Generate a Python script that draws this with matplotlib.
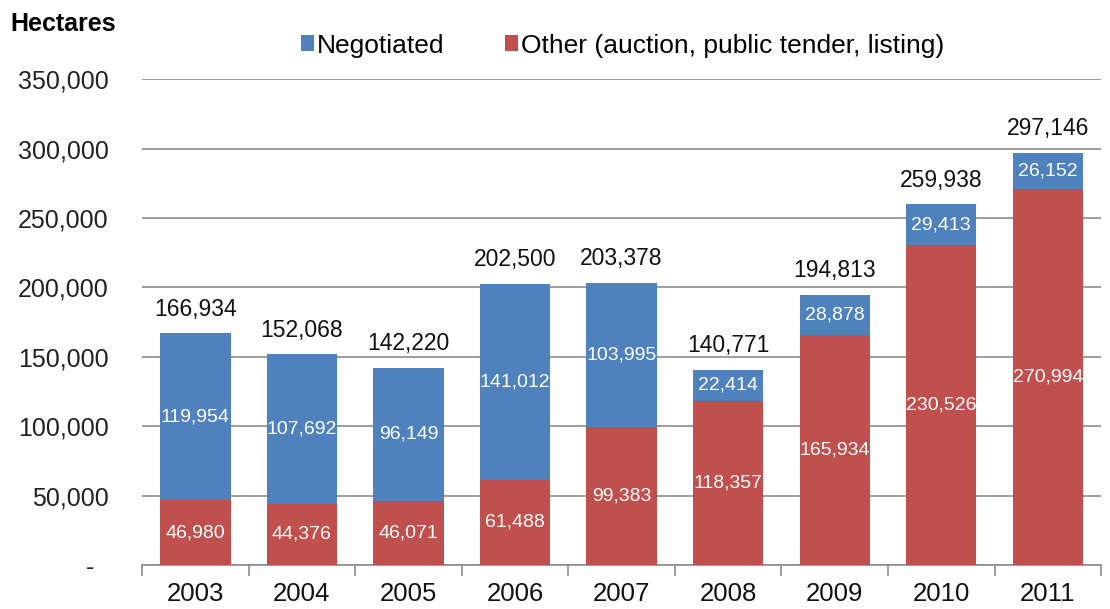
import matplotlib.pyplot as plt
import numpy as np
from matplotlib.ticker import FuncFormatter

plt.rcParams['font.family'] = ['Liberation Sans', 'DejaVu Sans']

years = ["2003", "2004", "2005", "2006", "2007", "2008", "2009", "2010", "2011"]
other = [46980, 44376, 46071, 61488, 99383, 118357, 165934, 230526, 270994]
negotiated = [119954, 107692, 96149, 141012, 103995, 22414, 28878, 29413, 26152]
# totals as published (rounded in the source table)
totals = [166934, 152068, 142220, 202500, 203378, 140771, 194813, 259938, 297146]

blue = "#4F81BD"
red = "#C0504D"

x = np.arange(len(years))
other = np.array(other)
negotiated = np.array(negotiated)

fig = plt.figure(figsize=(11.1, 6.09), dpi=100)
ax = fig.add_axes([0.128, 0.072, 0.864, 0.798])

b1 = ax.bar(x, other, width=0.66, color=red, zorder=3,
            label="Other (auction, public tender, listing)")
b2 = ax.bar(x, negotiated, width=0.66, bottom=other, color=blue, zorder=3,
            label="Negotiated")

# segment labels, white, centred in each piece
for i in range(len(x)):
    ax.text(x[i], other[i] / 2, f"{other[i]:,}", ha="center", va="center",
            color="white", fontsize=14, zorder=4)
    ax.text(x[i], other[i] + negotiated[i] / 2, f"{negotiated[i]:,}",
            ha="center", va="center", color="white", fontsize=14, zorder=4)
    ax.text(x[i], totals[i] + 9000, f"{totals[i]:,}", ha="center",
            va="bottom", color="#111111", fontsize=16.5, zorder=4)

ax.set_xlim(-0.5, len(x) - 0.5)
ax.set_ylim(0, 350000)
ax.set_yticks(np.arange(0, 350001, 50000))
ax.yaxis.set_major_formatter(FuncFormatter(lambda v, p: "-  " if v == 0 else f"{int(v):,}"))
ax.grid(axis="y", color="#8c8c8c", linewidth=1.2, zorder=0)
ax.tick_params(axis="y", length=0, labelsize=18, pad=24, labelcolor="#222222")

ax.set_xticks(x)
ax.set_xticklabels(years)
ax.set_xticks(np.arange(-0.5, len(x), 1.0), minor=True)
ax.tick_params(axis="x", which="major", length=0, labelsize=18.5, pad=12,
               labelcolor="#111111")
ax.tick_params(axis="x", which="minor", length=8, width=1.2, color="#8c8c8c",
               direction="out")

for s in ["top", "right", "left"]:
    ax.spines[s].set_visible(False)
ax.spines["bottom"].set_color("#8c8c8c")
ax.spines["bottom"].set_linewidth(1.2)

fig.text(0.009, 0.961, "Hectares", fontsize=18, fontweight="bold",
         ha="left", va="center")

fig.legend(handles=[b2, b1], loc="center", bbox_to_anchor=(0.561, 0.925),
           ncol=2, frameon=False, fontsize=19, handlelength=0.5,
           handleheight=0.55, handletextpad=0.1, columnspacing=2.3)

fig.savefig("out.png", dpi=100)
